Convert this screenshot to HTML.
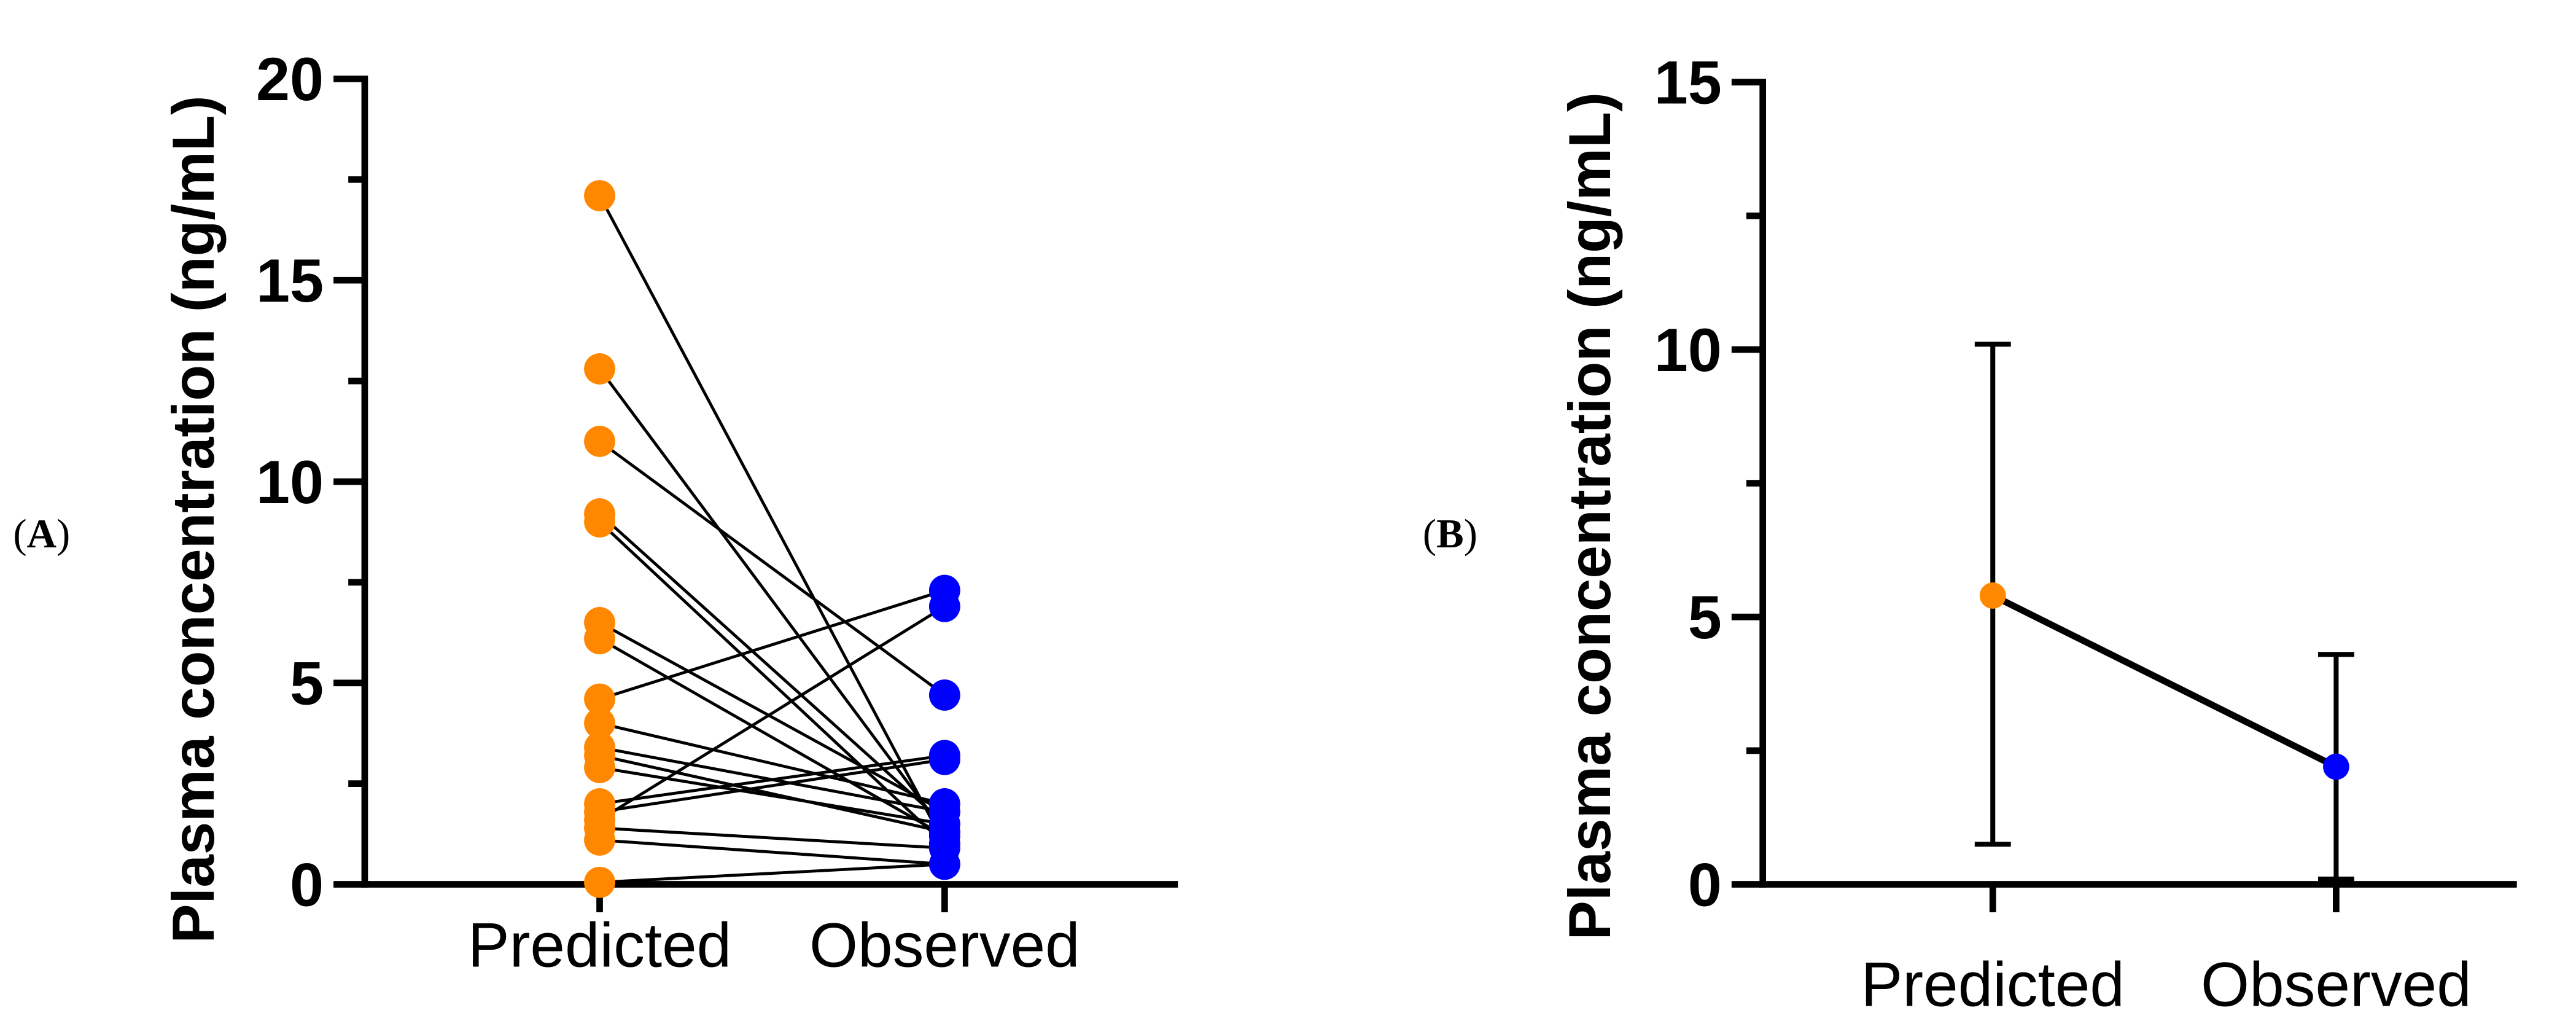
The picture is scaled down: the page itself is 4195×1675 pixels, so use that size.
<!DOCTYPE html>
<html><head><meta charset="utf-8"><style>
html,body{margin:0;padding:0;background:#fff;}
svg{display:block;}
text{font-family:"Liberation Sans",Arial,sans-serif;}
text.serif{font-family:"Liberation Serif",serif;}
</style></head><body>
<svg id="fig" width="4195" height="1675" viewBox="0 0 1568 626" preserveAspectRatio="none" xmlns="http://www.w3.org/2000/svg">
<rect width="1568" height="626" fill="#fff"/>
<g id="chartA"></g>
<g id="chartB"></g>
</svg>
<script>
const categories = ["Predicted", "Observed"];
const predictedA = [17.1, 12.8, 11.0, 9.2, 9.0, 6.5, 6.1, 4.6, 4.0, 3.4, 3.2, 2.9, 2.0, 1.8, 1.6, 1.4, 1.1, 0.05];
const observedA  = [1.0, 1.3, 4.7, 1.5, 1.0, 1.8, 1.2, 7.3, 2.0, 1.8, 1.3, 1.5, 3.2, 3.1, 6.9, 0.9, 0.5, 0.5];
const ticksA = [0, 5, 10, 15, 20];
const meansB = [5.4, 2.2];
const errLowB = [0.75, 0.1];
const errHighB = [10.1, 4.3];
const ticksB = [0, 5, 10, 15];
const colors = ["#ff8800", "#0000ff"];

const NS = "http://www.w3.org/2000/svg";
function mk(parent, tag, attrs, txt){
  const e = document.createElementNS(NS, tag);
  for (const k in attrs) e.setAttribute(k, attrs[k]);
  if (txt !== undefined) e.textContent = txt;
  parent.appendChild(e);
  return e;
}

function drawAxes(g, cfg){
  const {x0, x1, yTop, yBot, max, ticks, minorStep, catX, labelY, titleX, titleY, panel, panelX} = cfg;
  const y = v => yBot - (v / max) * (yBot - yTop);
  const yl = mk(g, "line", {x1:x0, y1:yTop-2, x2:x0, y2:yBot+2, stroke:"#000", "stroke-width":4});
  
  
  const xl = mk(g, "line", {x1:x0-2, y1:yBot, x2:x1, y2:yBot, stroke:"#000", "stroke-width":4});
  
  
  ticks.forEach(t => {
    const tk = mk(g, "line", {x1:x0-19, y1:y(t), x2:x0, y2:y(t), stroke:"#000", "stroke-width":4});
    
    
    const lb = mk(g, "text", {x:x0-25, y:y(t)+13, "text-anchor":"end", "font-size":37, "font-weight":"bold"}, String(t));
    
    
  });
  for (let v = minorStep; v < max; v += minorStep * 2){
    const mt = mk(g, "line", {x1:x0-10, y1:y(v), x2:x0, y2:y(v), stroke:"#000", "stroke-width":4});
    
    
  }
  categories.forEach((c, i) => {
    const ct = mk(g, "line", {x1:catX[i], y1:yBot, x2:catX[i], y2:yBot+17, stroke:"#000", "stroke-width":4});
    
    
    const cl = mk(g, "text", {x:catX[i], y:labelY, "text-anchor":"middle", "font-size":38}, c);
    
    
  });
  const tt = mk(g, "text", {x:titleX, y:titleY, "text-anchor":"middle", "font-size":36, "font-weight":"bold", transform:`rotate(-90 ${titleX} ${titleY})`}, "Plasma concentration (ng/mL)");
  
  
  const pl = mk(g, "text", {x:panelX, y:333, "font-size":25, "class":"serif"}, "");
  
  
  mk(pl, "tspan", {}, "(");
  mk(pl, "tspan", {"font-weight":"bold"}, panel);
  mk(pl, "tspan", {}, ")");
  return y;
}

// Chart A
const gA = document.getElementById("chartA");
const catXA = [365, 575];
const yA = drawAxes(gA, {x0:222, x1:717, yTop:48, yBot:538, max:20, ticks:ticksA, minorStep:2.5, catX:catXA, labelY:588, titleX:130, titleY:316, panel:"A", panelX:8});
predictedA.forEach((p, i) => {
  const ln = mk(gA, "line", {x1:catXA[0], y1:yA(p), x2:catXA[1], y2:yA(observedA[i]), stroke:"#000", "stroke-width":1.8});
  
  
});
predictedA.forEach(p => {
  const c = mk(gA, "circle", {cx:catXA[0], cy:yA(p), r:9.5, fill:colors[0]});
  
  
});
observedA.forEach(o => {
  const c = mk(gA, "circle", {cx:catXA[1], cy:yA(o), r:9.5, fill:colors[1]});
  
  
});

// Chart B
const gB = document.getElementById("chartB");
const catXB = [1213, 1422];
const yB = drawAxes(gB, {x0:1073, x1:1532, yTop:50, yBot:538, max:15, ticks:ticksB, minorStep:2.5, catX:catXB, labelY:612, titleX:980, titleY:314, panel:"B", panelX:866});
const ml = mk(gB, "line", {x1:catXB[0], y1:yB(meansB[0]), x2:catXB[1], y2:yB(meansB[1]), stroke:"#000", "stroke-width":4});


meansB.forEach((m, i) => {
  const eb = mk(gB, "line", {x1:catXB[i], y1:yB(errHighB[i]), x2:catXB[i], y2:yB(errLowB[i]), stroke:"#000", "stroke-width":3});
  
  
  [errHighB[i], errLowB[i]].forEach(v => {
    const cap = mk(gB, "line", {x1:catXB[i]-11, y1:yB(v), x2:catXB[i]+11, y2:yB(v), stroke:"#000", "stroke-width":3});
    
    
  });
  const c = mk(gB, "circle", {cx:catXB[i], cy:yB(m), r:8, fill:colors[i]});
  
  
});
</script>
</body></html>
